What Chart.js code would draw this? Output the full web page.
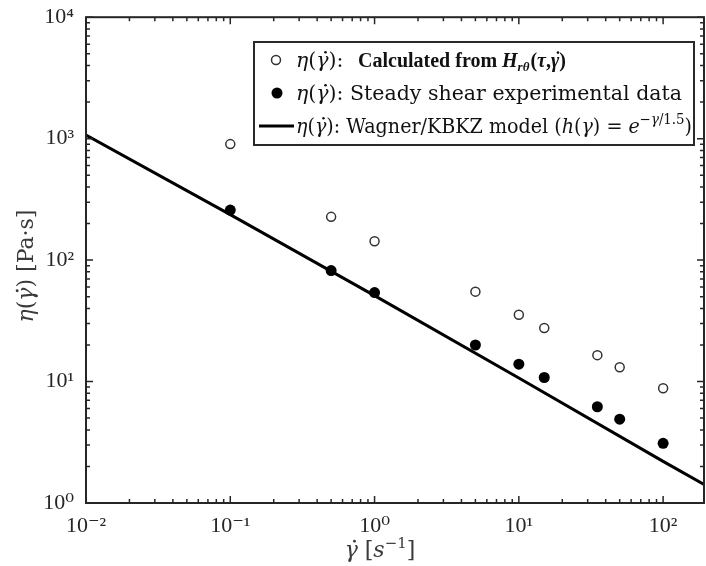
<!DOCTYPE html>
<html>
<head>
<meta charset="utf-8">
<script src="https://cdn.jsdelivr.net/npm/chart.js@4.4.1/dist/chart.umd.min.js"></script>
<style>
  html, body { margin: 0; padding: 0; background: #fff; overflow: hidden; }
  #wrap { width: 706px; height: 566px; overflow: hidden; }
  #box { width: 710px; height: 566px; position: relative; }
</style>
</head>
<body>
<div id="wrap"><div id="box"><canvas id="myChart"></canvas></div></div>
<script>
// data
const shearRates = [0.1, 0.5, 1, 5, 10, 15, 35, 50, 100];
const etaCalculated = [902, 227, 143, 55, 35.5, 27.6, 16.5, 13.1, 8.8];
const etaSteady = [258, 82, 54, 20, 13.9, 10.8, 6.2, 4.9, 3.1];
const modelRates = [0.01, 0.1, 1, 10, 100, 192];
const etaModel = [1070, 237, 51, 10.7, 2.2, 1.42];

const xTicks = [0.01, 0.1, 1, 10, 100];
const xTickLabels = ['10⁻²', '10⁻¹', '10⁰', '10¹', '10²'];
const yTicks = [1, 10, 100, 1000, 10000];
const yTickLabels = ['10⁰', '10¹', '10²', '10³', '10⁴'];

const SERIF = '"Liberation Serif", "DejaVu Serif", serif';
const TEXT = '"DejaVu Serif", serif';
const AXIS_COLOR = '#262626';

const pairs = (xs, ys) => xs.map((x, i) => ({ x, y: ys[i] }));

const minorValues = (from, to, max) => {
  const vals = [];
  for (let d = from; d <= to; d++) {
    for (let m = 2; m <= 9; m++) {
      const v = m * Math.pow(10, d);
      if (v < max) vals.push(v);
    }
  }
  return vals;
};

// row of text pieces: [text, font, dy, dotSize]; a dotSize draws an overdot (gamma-dot)
const measureRich = (ctx, parts) =>
  parts.reduce((w, [t, f]) => { ctx.font = f; return w + ctx.measureText(t).width; }, 0);

const drawRich = (ctx, parts, x, y) => {
  parts.forEach(([text, font, dy = 0, dot = 0]) => {
    ctx.font = font;
    ctx.fillText(text, x, y + dy);
    const w = ctx.measureText(text).width;
    if (dot) {
      ctx.beginPath();
      ctx.arc(x + w * 0.55 + dot * 0.12, y + dy - dot * 0.72, dot * 0.065, 0, Math.PI * 2);
      ctx.fill();
    }
    x += w;
  });
  return x;
};

// squeeze a row horizontally so it spans the given width
const drawFitted = (ctx, parts, x, y, width) => {
  const sx = width / measureRich(ctx, parts);
  ctx.save();
  ctx.translate(x, y);
  ctx.scale(sx, 1);
  drawRich(ctx, parts, 0, 0);
  ctx.restore();
  return sx;
};

const etaOf = (s, fam) => [
  ['η', `italic ${s}px ${fam}`], ['(', `${s}px ${fam}`], ['γ', `italic ${s}px ${fam}`, 0, s], [')', `${s}px ${fam}`],
];

const framePlugin = {
  id: 'frame',
  afterDatasetsDraw(chart) {
    const { ctx, chartArea: a, scales } = chart;
    const { x, y } = scales;
    ctx.save();
    ctx.strokeStyle = AXIS_COLOR;
    ctx.lineWidth = 1.5;
    ctx.beginPath();
    const xTick = (v, len) => {
      const px = x.getPixelForValue(v);
      ctx.moveTo(px, a.bottom); ctx.lineTo(px, a.bottom - len);
      ctx.moveTo(px, a.top); ctx.lineTo(px, a.top + len);
    };
    const yTick = (v, len) => {
      const py = y.getPixelForValue(v);
      ctx.moveTo(a.left, py); ctx.lineTo(a.left + len, py);
      ctx.moveTo(a.right, py); ctx.lineTo(a.right - len, py);
    };
    xTicks.forEach((v) => xTick(v, 7));
    minorValues(-2, 2, x.max).forEach((v) => xTick(v, 4));
    yTicks.forEach((v) => yTick(v, 7));
    minorValues(0, 3, y.max).forEach((v) => yTick(v, 4));
    ctx.stroke();

    ctx.lineWidth = 2;
    ctx.strokeRect(a.left, a.top, a.right - a.left, a.bottom - a.top);
    ctx.restore();
  },
  afterDraw(chart) {
    const { ctx } = chart;
    ctx.save();
    ctx.textBaseline = 'alphabetic';

    const s = 20.5;
    const rm = `${s}px ${TEXT}`;
    const it = `italic ${s}px ${TEXT}`;
    const sup = `${(s * 0.7).toFixed(1)}px ${TEXT}`;
    const supIt = `italic ${(s * 0.7).toFixed(1)}px ${TEXT}`;
    const bold = `bold 20px ${SERIF}`;
    const boldIt = `bold italic 20px ${SERIF}`;
    const boldSub = `bold italic 13px ${SERIF}`;

    // axis titles
    ctx.fillStyle = '#3a3a3a';
    const ts = 22;
    const yTitle = etaOf(ts, TEXT).concat([[' [Pa·s]', `${ts}px ${TEXT}`]]);
    const yw = measureRich(ctx, yTitle);
    ctx.translate(33, 266);
    ctx.rotate(-Math.PI / 2);
    drawRich(ctx, yTitle, -yw / 2, 0);
    ctx.setTransform(1, 0, 0, 1, 0, 0);

    const xTitle = [
      ['γ', `italic ${ts}px ${TEXT}`, 0, ts], [' [', `${ts}px ${TEXT}`], ['s', `italic ${ts}px ${TEXT}`],
      ['−1', `15px ${TEXT}`, -9], [']', `${ts}px ${TEXT}`],
    ];
    const xw = measureRich(ctx, xTitle);
    drawRich(ctx, xTitle, 380 - xw / 2, 557);

    // legend
    const box = { left: 254, top: 42, right: 694, bottom: 145 };
    ctx.fillStyle = '#fff';
    ctx.fillRect(box.left, box.top, box.right - box.left, box.bottom - box.top);
    ctx.strokeStyle = '#2a2a2a';
    ctx.lineWidth = 2;
    ctx.strokeRect(box.left, box.top, box.right - box.left, box.bottom - box.top);

    const rows = [60, 93, 126];
    ctx.strokeStyle = '#333';
    ctx.lineWidth = 1.5;
    ctx.beginPath();
    ctx.arc(276, rows[0], 4.5, 0, Math.PI * 2);
    ctx.stroke();
    ctx.fillStyle = '#000';
    ctx.beginPath();
    ctx.arc(277, rows[1], 5.5, 0, Math.PI * 2);
    ctx.fill();
    ctx.strokeStyle = '#000';
    ctx.lineWidth = 3;
    ctx.beginPath();
    ctx.moveTo(259, rows[2]);
    ctx.lineTo(294, rows[2]);
    ctx.stroke();

    ctx.fillStyle = '#111';
    const tx = 296;
    const base = 7;
    const row2 = etaOf(s, TEXT).concat([[': Steady shear experimental data', rm]]);
    const sx = drawFitted(ctx, row2, tx, rows[1] + base, 386);
    const row1 = etaOf(s, TEXT).concat([[':', rm]]);
    drawFitted(ctx, row1, tx, rows[0] + base, measureRich(ctx, row1) * sx);
    let xe = drawRich(ctx, [['Calculated from ', bold], ['H', boldIt], ['rθ', boldSub, 4]], 358, rows[0] + base);
    drawRich(ctx, [['(', bold], ['τ', boldIt], [',', bold], ['γ', boldIt, 0, 20], [')', bold]], xe + 1, rows[0] + base);
    const row3 = etaOf(s, TEXT).concat([
      [': Wagner/KBKZ model (', rm], ['h', it], ['(', rm], ['γ', it], [') = ', rm], ['e', it],
      ['−', sup, -9], ['γ', supIt, -9], ['/1.5', sup, -9], [')', rm],
    ]);
    drawFitted(ctx, row3, tx, rows[2] + base, 396);
    ctx.restore();
  },
};

const myChart = new Chart(document.getElementById('myChart'), {
  type: 'scatter',
  data: {
    datasets: [
      {
        label: 'Wagner/KBKZ model',
        data: pairs(modelRates, etaModel),
        showLine: true,
        borderColor: '#000',
        borderWidth: 3,
        pointRadius: 0,
        order: 3,
      },
      {
        label: 'Calculated',
        data: pairs(shearRates, etaCalculated),
        pointStyle: 'circle',
        pointRadius: 4.5,
        pointBorderWidth: 1.5,
        pointBorderColor: '#333',
        pointBackgroundColor: 'rgba(0,0,0,0)',
        order: 1,
      },
      {
        label: 'Steady shear',
        data: pairs(shearRates, etaSteady),
        pointStyle: 'circle',
        pointRadius: 5.5,
        pointBorderWidth: 0,
        pointBackgroundColor: '#000',
        order: 2,
      },
    ],
  },
  options: {
    responsive: true,
    maintainAspectRatio: false,
    devicePixelRatio: 1,
    animation: false,
    layout: { padding: { top: 17, right: 0, bottom: 0, left: 0 } },
    plugins: { legend: { display: false }, tooltip: { enabled: false } },
    scales: {
      x: {
        type: 'logarithmic',
        min: 0.01,
        max: 192,
        grid: { display: false },
        border: { display: false },
        afterBuildTicks: (scale) => { scale.ticks = xTicks.map((value) => ({ value })); },
        afterFit: (scale) => { scale.height = 63; },
        ticks: {
          autoSkip: false,
          maxRotation: 0,
          padding: 2,
          color: AXIS_COLOR,
          font: { family: SERIF, size: 22 },
          callback: (value) => xTickLabels[xTicks.indexOf(value)],
        },
      },
      y: {
        type: 'logarithmic',
        min: 1,
        max: 10000,
        grid: { display: false },
        border: { display: false },
        afterBuildTicks: (scale) => { scale.ticks = yTicks.map((value) => ({ value })); },
        afterFit: (scale) => { scale.width = 86; },
        ticks: {
          autoSkip: false,
          padding: 4,
          color: AXIS_COLOR,
          font: { family: SERIF, size: 22 },
          callback: (value) => yTickLabels[yTicks.indexOf(value)],
        },
      },
    },
  },
  plugins: [framePlugin],
});
</script>
</body>
</html>
